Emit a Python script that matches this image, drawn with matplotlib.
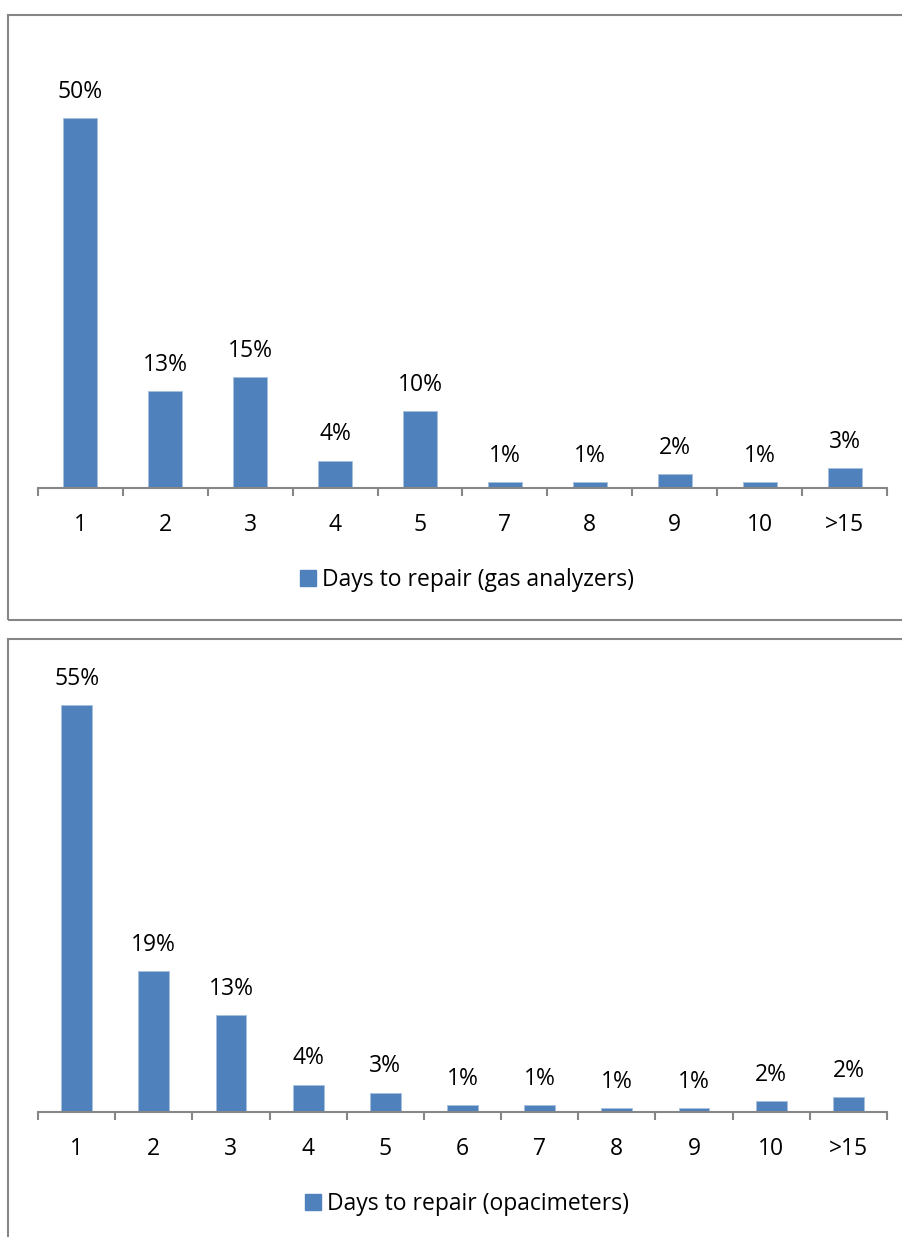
import matplotlib
matplotlib.use("Agg")
import matplotlib.pyplot as plt
from matplotlib.patches import Rectangle, Patch

plt.rcParams['font.family'] = ['Open Sans', 'DejaVu Sans']

gas_categories = ["1", "2", "3", "4", "5", "7", "8", "9", "10", ">15"]
gas_values = [0.50, 0.131, 0.15, 0.037, 0.104, 0.008, 0.008, 0.019, 0.008, 0.027]
gas_labels = ["50%", "13%", "15%", "4%", "10%", "1%", "1%", "2%", "1%", "3%"]
gas_legend = "Days to repair (gas analyzers)"

opa_categories = ["1", "2", "3", "4", "5", "6", "7", "8", "9", "10", ">15"]
opa_values = [0.55, 0.19, 0.131, 0.037, 0.026, 0.0095, 0.0095, 0.005, 0.005, 0.015, 0.020]
opa_labels = ["55%", "19%", "13%", "4%", "3%", "1%", "1%", "1%", "1%", "2%", "2%"]
opa_legend = "Days to repair (opacimeters)"

W, H = 903, 1237
fig = plt.figure(figsize=(W / 100, H / 100), dpi=100)

BAR = '#4F81BD'
GREY = '#868686'
FS = 16.5


def fx(px):
    return px / W


def fy(py):
    return 1 - py / H


# panel frames
fig.patches.append(Rectangle((fx(8), fy(620)), fx(910) - fx(8), fy(15) - fy(620),
                             transform=fig.transFigure, fill=False, edgecolor=GREY, lw=1.5))
fig.patches.append(Rectangle((fx(8), fy(1245)), fx(910) - fx(8), fy(639) - fy(1245),
                             transform=fig.transFigure, fill=False, edgecolor=GREY, lw=1.5))


def panel(axis_y, cats, vals, labels, legend_text, legend_y):
    left, right = 38, 887
    ymax = 0.6
    height_px = ymax * 740
    ax = fig.add_axes([fx(left), fy(axis_y), fx(right) - fx(left), height_px / H])
    x = list(range(len(cats)))
    ax.bar(x, vals, width=0.4, color=BAR, edgecolor='#A7BFDE', linewidth=0.6)
    ax.set_xlim(-0.5, len(cats) - 0.5)
    ax.set_ylim(0, ymax)
    for s in ['top', 'right', 'left']:
        ax.spines[s].set_visible(False)
    ax.spines['bottom'].set_color(GREY)
    ax.spines['bottom'].set_linewidth(1.5)
    ax.set_yticks([])
    ax.set_xticks(x)
    ax.set_xticklabels(cats, fontsize=FS)
    ax.tick_params(axis='x', which='major', length=0, pad=18)
    ax.set_xticks([i - 0.5 for i in range(len(cats) + 1)], minor=True)
    ax.tick_params(axis='x', which='minor', length=6, width=1.5, color=GREY, direction='out')
    for xi, v, lab in zip(x, vals, labels):
        ax.annotate(lab, (xi, v), xytext=(0, 19), textcoords='offset points',
                    ha='center', va='center', fontsize=FS, annotation_clip=False)
    handle = Patch(facecolor=BAR, edgecolor=BAR)
    fig.legend([handle], [legend_text], loc='center',
               bbox_to_anchor=(fx(467), fy(legend_y)), frameon=False, fontsize=FS,
               handlelength=0.7, handleheight=0.7, handletextpad=0.3)
    return ax


panel(488, gas_categories, gas_values, gas_labels, gas_legend, 580)
panel(1112, opa_categories, opa_values, opa_labels, opa_legend, 1204)

fig.savefig('out.png', dpi=100)
